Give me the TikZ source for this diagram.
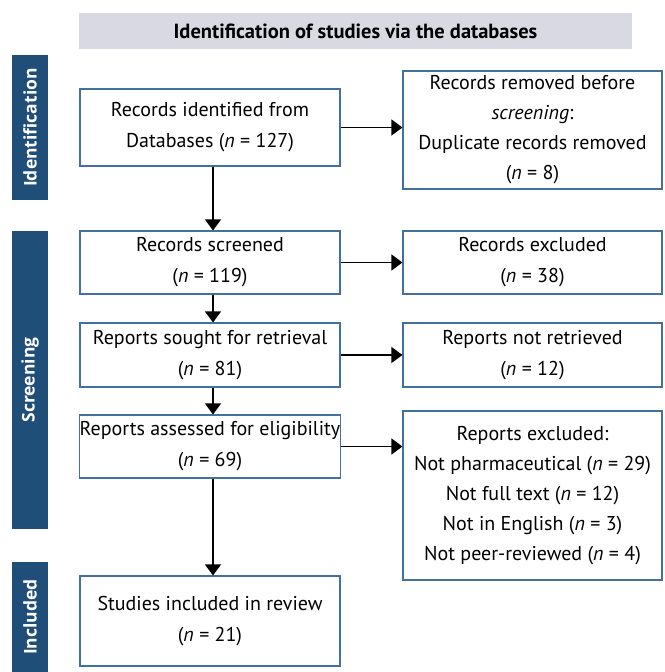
\documentclass[tikz,border=0pt]{standalone}
\usepackage{fontspec}
\setmainfont{PT Sans}
\newfontfamily\sidefont{Open Sans}
\usetikzlibrary{arrows.meta}
\definecolor{sidebl}{HTML}{1F4E79}
\definecolor{boxbd}{HTML}{41719C}
\definecolor{headbg}{HTML}{D9D9E3}
\begin{document}
\begin{tikzpicture}[x=1pt,y=-1pt,
  flowbox/.style={draw=boxbd, line width=1.1pt, align=center, inner sep=0pt,
    font=\fontsize{20}{31}\selectfont},
  leftbox/.style={flowbox, minimum width=260pt},
  rightbox/.style={flowbox, minimum width=259pt},
  side/.style={fill=sidebl, text=white, font=\sidefont\bfseries\fontsize{17.5}{20}\selectfont,
    inner sep=0pt, rotate=90, minimum height=36pt},
  arr/.style={-{Triangle[width=16pt,length=11pt]}, line width=1.2pt, black}]
\useasboundingbox (0,0) rectangle (664,672);
% header
\node[fill=headbg, minimum width=553pt, minimum height=36pt, inner sep=0pt,
  font=\bfseries\fontsize{20.5}{22}\selectfont] (hdr) at (355.5,31)
  {Identification of studies via the databases};
% side bars
\node[side, minimum width=145pt] (sid) at (30,127.5) {Identification};
\node[side, minimum width=298pt] (sscr) at (30,380) {Screening};
\node[side, minimum width=110pt] (sinc) at (30,617) {Included};
% left boxes
\node[leftbox, minimum height=77pt] (b1) at (210,127.5)
  {Records identified from\\Databases (\textit{n} = 127)};
\node[leftbox, minimum height=63pt] (b2) at (210,262.5)
  {Records screened\\(\textit{n} = 119)};
\node[leftbox, minimum height=64pt] (b3) at (210,355)
  {Reports sought for retrieval\\(\textit{n} = 81)};
\node[leftbox, minimum height=63pt] (b4) at (210,446.5)
  {Reports assessed for eligibility\\(\textit{n} = 69)};
\node[leftbox, minimum height=90pt] (b5) at (210,621)
  {Studies included in review\\(\textit{n} = 21)};
% right boxes
\node[rightbox, minimum height=118pt, font=\fontsize{20}{30}\selectfont] (r1) at (532.5,130)
  {Records removed before\\\textit{screening}:\\Duplicate records removed\\(\textit{n} = 8)};
\node[rightbox, minimum height=63pt] (r2) at (532.5,262.5)
  {Records excluded\\(\textit{n} = 38)};
\node[rightbox, minimum height=64pt] (r3) at (532.5,355)
  {Reports not retrieved\\(\textit{n} = 12)};
\node[rightbox, minimum height=169pt, font=\fontsize{20}{30}\selectfont] (r4) at (532.5,495.5)
  {Reports excluded:\\Not pharmaceutical (\textit{n} = 29)\\Not full text (\textit{n} = 12)\\Not in English (\textit{n} = 3)\\Not peer-reviewed (\textit{n} = 4)};
% horizontal arrows
\draw[arr] (b1.east) -- (b1.east -| r1.west);
\draw[arr] (b2.east) -- (b2.east -| r2.west);
\draw[arr] (b3.east) -- (b3.east -| r3.west);
\draw[arr] (b4.east) -- (b4.east -| r4.west);
% vertical arrows
\draw[arr] ([xshift=3pt]b1.south) -- ([xshift=3pt]b1.south |- b2.north);
\draw[arr] ([xshift=3pt]b2.south) -- ([xshift=3pt]b2.south |- b3.north);
\draw[arr] ([xshift=3pt]b3.south) -- ([xshift=3pt]b3.south |- b4.north);
\draw[arr] ([xshift=3pt]b4.south) -- ([xshift=3pt]b4.south |- b5.north);
\end{tikzpicture}
\end{document}
